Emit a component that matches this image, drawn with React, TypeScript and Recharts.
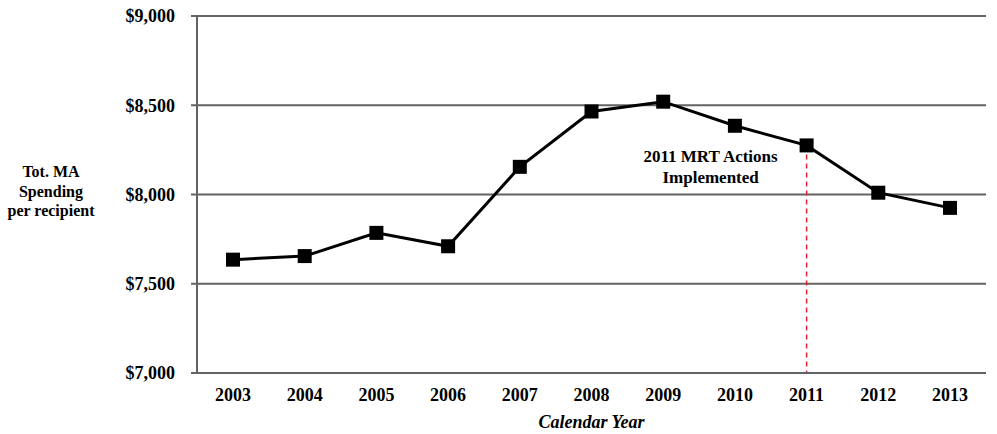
import React from "react";
import {
  LineChart,
  Line,
  XAxis,
  YAxis,
  CartesianGrid,
  ReferenceLine,
  Label,
} from "recharts";

const years = ["2003", "2004", "2005", "2006", "2007", "2008", "2009", "2010", "2011", "2012", "2013"];
const spending = [7635, 7655, 7785, 7710, 8155, 8465, 8520, 8385, 8275, 8010, 7925];
const yTicks = [7000, 7500, 8000, 8500, 9000];
const yTitle = ["Tot. MA", "Spending", "per recipient"];
const noteLines = ["2011 MRT Actions", "Implemented"];
const mrtYear = "2011";
const mrtValue = 8275;

const data = years.map((y, i) => ({ year: y, value: spending[i] }));

const FONT = '"Liberation Serif", "Times New Roman", serif';
const GRID = "#636363";

const fmtMoney = (v: number) => `$${v.toLocaleString("en-US")}`;

function SquareDot(props: any) {
  const { cx, cy } = props;
  if (cx == null || cy == null) return null;
  return <rect x={cx - 7} y={cy - 7} width={14} height={14} fill="#000" />;
}

export default function App() {
  return (
    <div style={{ position: "absolute", left: 0, top: 0, background: "#fff" }}>
      <LineChart
        width={997}
        height={434}
        data={data}
        margin={{ top: 16, right: 11, left: 0, bottom: 0 }}
      >
        <CartesianGrid vertical={false} stroke={GRID} strokeWidth={2} />
        <XAxis
          dataKey="year"
          height={61}
          padding={{ left: 36, right: 36 }}
          tickLine={false}
          tickSize={0}
          tickMargin={15}
          axisLine={{ stroke: GRID, strokeWidth: 2 }}
          tick={{ fill: "#000", fontFamily: FONT, fontWeight: "bold", fontSize: 18 }}
        >
          <Label
            content={(p: any) => {
              const vb = p.viewBox;
              return (
                <text
                  x={vb.x + vb.width / 2}
                  y={428}
                  textAnchor="middle"
                  fontFamily={FONT}
                  fontWeight="bold"
                  fontStyle="italic"
                  fontSize={18}
                  fill="#000"
                >
                  Calendar Year
                </text>
              );
            }}
          />
        </XAxis>
        <YAxis
          width={197}
          domain={[7000, 9000]}
          ticks={yTicks}
          tickFormatter={fmtMoney}
          tickSize={6}
          tickMargin={16}
          tickLine={{ stroke: GRID, strokeWidth: 2 }}
          axisLine={{ stroke: GRID, strokeWidth: 2 }}
          tick={{ fill: "#000", fontFamily: FONT, fontWeight: "bold", fontSize: 18 }}
        >
          <Label
            content={() => (
              <text
                textAnchor="middle"
                fontFamily={FONT}
                fontWeight="bold"
                fontSize={16}
                fill="#000"
              >
                {yTitle.map((t, i) => (
                  <tspan key={t} x={51} y={177 + i * 19.5}>
                    {t}
                  </tspan>
                ))}
              </text>
            )}
          />
        </YAxis>
        <ReferenceLine
          segment={[
            { x: mrtYear, y: mrtValue },
            { x: mrtYear, y: 7000 },
          ]}
          stroke="#e0202f"
          strokeWidth={1.5}
          strokeDasharray="5 4"
          label={(p: any) => {
            const vb = p.viewBox;
            return (
              <text
                textAnchor="middle"
                fontFamily={FONT}
                fontWeight="bold"
                fontSize={17}
                fill="#000"
              >
                {noteLines.map((t, i) => (
                  <tspan key={t} x={vb.x - 96} y={vb.y + 17 + i * 21}>
                    {t}
                  </tspan>
                ))}
              </text>
            );
          }}
        />
        <Line
          dataKey="value"
          stroke="#000"
          strokeWidth={3}
          dot={<SquareDot />}
          activeDot={false}
          isAnimationActive={false}
        />
      </LineChart>
    </div>
  );
}
